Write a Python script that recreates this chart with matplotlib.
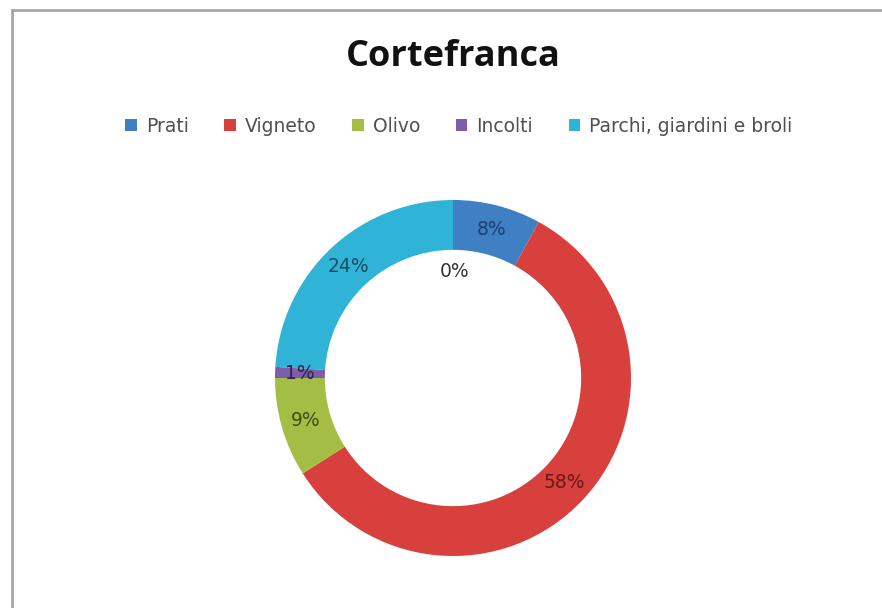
import numpy as np
import matplotlib.pyplot as plt
from matplotlib.patches import Rectangle

plt.rcParams['font.family'] = ['DejaVu Sans']

# land use shares, Cortefranca
categories = ['Prati', 'Vigneto', 'Olivo', 'Incolti', 'Parchi, giardini e broli']
shares = [8, 58, 9, 1, 24]
colors = ['#3f7fc4', '#d8403d', '#a3bd45', '#7d5ca8', '#2fb3d6']
label_colors = ['#1d3f70', '#6e1818', '#3f4d12', '#2e2245', '#164f66']

fig = plt.figure(figsize=(8.82, 6.08), dpi=100)

# chart frame (only top and left edges fall inside the canvas)
fig.patches.append(Rectangle((12 / 882, -0.05), 1.2, (608 - 10) / 608 + 0.05,
                             transform=fig.transFigure, fill=False,
                             edgecolor='#a6a6a6', linewidth=2))

fig.text(453 / 882, 1 - 57 / 608, 'Cortefranca', ha='center', va='center',
         fontsize=26, fontweight='bold', color='#111111', family='Open Sans')

ax = fig.add_axes([(453 - 178) / 882, (608 - 378 - 178) / 608, 356 / 882, 356 / 608])
wedges, _ = ax.pie(shares, colors=colors, startangle=90, counterclock=False,
                   radius=1, wedgeprops=dict(width=0.28, linewidth=0))
ax.set_xlim(-1, 1)
ax.set_ylim(-1, 1)

# percentage labels in the middle of each ring segment
cum = np.cumsum([0] + shares)
total = sum(shares)
for i, s in enumerate(shares):
    mid = (cum[i] + cum[i + 1]) / 2 / total
    ang = np.deg2rad(90 - 360 * mid)
    r = 0.86
    ax.text(r * np.cos(ang), r * np.sin(ang), f'{s}%', ha='center', va='center',
            fontsize=13.5, color=label_colors[i])
ax.text(0.01, 0.6, '0%', ha='center', va='center', fontsize=13.5, color='#333333')

leg = fig.legend(wedges, categories, loc='center', bbox_to_anchor=(459 / 882, 1 - 126 / 608),
                 ncol=5, frameon=False, fontsize=13.5, handlelength=0.6, handleheight=0.6,
                 handletextpad=0.5, columnspacing=1.9)
for t in leg.get_texts():
    t.set_color('#505050')

fig.savefig('out.png', dpi=100, facecolor='white')
